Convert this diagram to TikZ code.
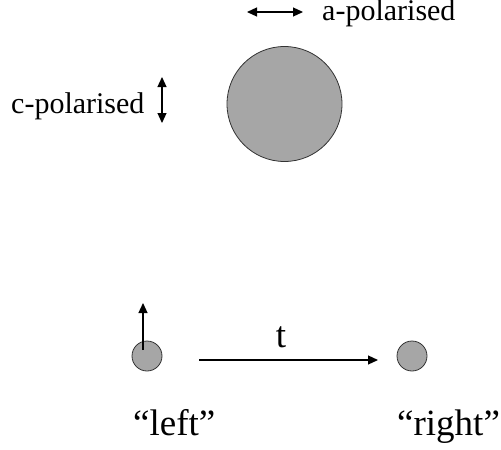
\documentclass[tikz,border=0pt]{standalone}
\usepackage{fontspec}
\setmainfont{Liberation Serif}
\usetikzlibrary{arrows.meta}
\tikzset{
    ion/.style={circle, draw=black!80, line width=0.8pt, fill=gray!70, inner sep=0pt},
    pol/.style={line width=1.2pt, {Triangle[length=10pt,width=9pt]}-{Triangle[length=10pt,width=9pt]}},
    move/.style={line width=1.2pt, -{Triangle[length=10pt,width=9pt]}},
    lbl/.style={font=\fontsize{30}{36}\selectfont, inner sep=0pt},
    biglbl/.style={font=\fontsize{37}{44}\selectfont, inner sep=0pt}
}
\begin{document}
\begin{tikzpicture}[x=1pt, y=-1pt]
    \useasboundingbox (0,0) rectangle (501,450);
    % Ion grande
    \node[ion, minimum size=115pt] (big) at (284.5,104) {};

    % Polarizaciones
    \coordinate (aL) at (247,12);
    \coordinate (aR) at (303,12);
    \draw[pol] (aL) -- (aR);
    \node[lbl, anchor=base west] (alabel) at (322,20) {a-polarised};
    \coordinate (cT) at (162,77);
    \coordinate (cB) at (162,123);
    \draw[pol] (cT) -- (cB);
    \node[lbl, anchor=base west] (clabel) at (11,113) {c-polarised};

    % Iones pequeños
    \node[ion, minimum size=30pt] (left) at (147,356) {};
    \node[ion, minimum size=30pt] (right) at (412,356) {};
    \coordinate (spinB) at (143,350);
    \coordinate (spinT) at (143,303);
    \draw[move] (spinB) -- (spinT);

    % Tiempo
    \coordinate (tA) at (199,360);
    \coordinate (tB) at (378,360);
    \draw[move] (tA) -- (tB);
    \node[biglbl, anchor=base] (tlabel) at (281,347) {t};

    % Etiquetas
    \node[biglbl, anchor=base west] (leftlabel) at (133,435) {“left”};
    \node[biglbl, anchor=base west] (rightlabel) at (397,435) {“right”};
\end{tikzpicture}
\end{document}
